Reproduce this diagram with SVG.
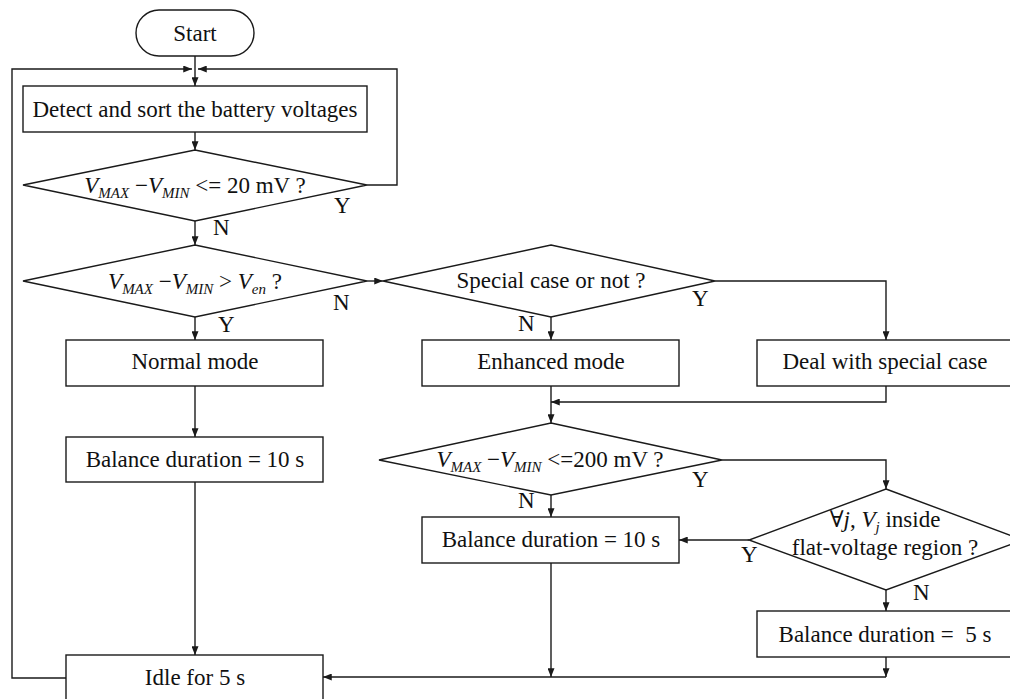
<svg xmlns="http://www.w3.org/2000/svg" width="1010" height="699" viewBox="0 0 1010 699" font-family="'Liberation Serif', 'DejaVu Serif', serif">
<defs>
<marker id="ah" viewBox="0 0 10 8" refX="10" refY="4" markerWidth="9" markerHeight="7" markerUnits="userSpaceOnUse" orient="auto">
<path d="M0,0 L10,4 L0,8 z" fill="#1a1a1a"/>
</marker>
</defs>
<style>
.shape{fill:#fff;stroke:#1a1a1a;stroke-width:1.4}
.t{font-family:'Liberation Serif','DejaVu Serif',serif;font-size:23px;fill:#111}
.c{text-anchor:middle}
.i{font-style:italic}
.s{font-size:15px;font-style:italic}
.ln{fill:none;stroke:#1a1a1a;stroke-width:1.4}
.ar{marker-end:url(#ah)}
</style>
<rect width="1010" height="699" fill="#fff"/>
<g id="connectors">
<path class="ln ar" d="M195,56 V86"/>
<path class="ln ar" d="M195,132 V150"/>
<path class="ln ar" d="M367,185 H397 V69 H198"/>
<path class="ln ar" d="M66,678 H12 V69 H192"/>
<path class="ln ar" d="M195,221 V245"/>
<path class="ln ar" d="M367,281 H383"/>
<path class="ln ar" d="M195,317 V340"/>
<path class="ln ar" d="M195,386 V437"/>
<path class="ln ar" d="M195,482 V655"/>
<path class="ln ar" d="M551,317 V340"/>
<path class="ln ar" d="M715,281 H886 V340"/>
<path class="ln ar" d="M886,386 V402 H551"/>
<path class="ln ar" d="M551,386 V423"/>
<path class="ln ar" d="M551,495 V517"/>
<path class="ln ar" d="M722,460 H886 V489"/>
<path class="ln ar" d="M749,540 H679"/>
<path class="ln ar" d="M886,590 V611"/>
<path class="ln ar" d="M551,563 V677"/>
<path class="ln ar" d="M886,657 V677"/>
<path class="ln ar" d="M886,677 H323"/>
</g>
<g id="start">
<rect class="shape" x="136" y="10" width="118" height="46" rx="23" ry="23"/>
<text class="t c" x="195" y="41">Start</text>
</g>
<g id="detect">
<rect class="shape" x="23" y="86" width="344" height="46"/>
<text class="t c" x="195" y="117">Detect and sort the battery voltages</text>
</g>
<g id="d1">
<polygon class="shape" points="195,150 367,185 195,221 23,185"/>
<text class="t c" x="195" y="193"><tspan class="i">V</tspan><tspan class="s" dy="5">MAX</tspan><tspan dy="-5"> −</tspan><tspan class="i">V</tspan><tspan class="s" dy="5">MIN</tspan><tspan dy="-5"> &lt;= 20 mV ?</tspan></text>
<text class="t" x="334" y="213">Y</text>
<text class="t" x="213" y="235">N</text>
</g>
<g id="d2">
<polygon class="shape" points="195,245 367,281 195,317 23,281"/>
<text class="t c" x="195" y="289"><tspan class="i">V</tspan><tspan class="s" dy="5">MAX</tspan><tspan dy="-5"> −</tspan><tspan class="i">V</tspan><tspan class="s" dy="5">MIN</tspan><tspan dy="-5"> &gt; </tspan><tspan class="i">V</tspan><tspan class="s" dy="5">en</tspan><tspan dy="-5"> ?</tspan></text>
<text class="t" x="333" y="310">N</text>
<text class="t" x="218" y="332">Y</text>
</g>
<g id="normal">
<rect class="shape" x="66" y="340" width="257" height="46"/>
<text class="t c" x="195" y="369">Normal mode</text>
</g>
<g id="balance1">
<rect class="shape" x="66" y="437" width="257" height="45"/>
<text class="t c" x="195" y="467">Balance duration = 10 s</text>
</g>
<g id="idle">
<rect class="shape" x="66" y="655" width="257" height="50"/>
<text class="t c" x="195" y="685">Idle for 5 s</text>
</g>
<g id="d3">
<polygon class="shape" points="551,245 715,281 551,317 383,281"/>
<text class="t c" x="551" y="288">Special case or not ?</text>
<text class="t" x="692" y="306">Y</text>
<text class="t" x="518" y="331">N</text>
</g>
<g id="enhanced">
<rect class="shape" x="422" y="340" width="257" height="46"/>
<text class="t c" x="551" y="369">Enhanced mode</text>
</g>
<g id="deal">
<rect class="shape" x="757" y="340" width="257" height="46"/>
<text class="t c" x="885" y="369">Deal with special case</text>
</g>
<g id="d4">
<polygon class="shape" points="551,423 722,460 551,495 379,460"/>
<text class="t c" x="550" y="467"><tspan class="i">V</tspan><tspan class="s" dy="5">MAX</tspan><tspan dy="-5"> −</tspan><tspan class="i">V</tspan><tspan class="s" dy="5">MIN</tspan><tspan dy="-5"> &lt;=200 mV ?</tspan></text>
<text class="t" x="692" y="487">Y</text>
<text class="t" x="518" y="508">N</text>
</g>
<g id="balance2">
<rect class="shape" x="422" y="517" width="257" height="46"/>
<text class="t c" x="551" y="547">Balance duration = 10 s</text>
</g>
<g id="d5">
<polygon class="shape" points="886,489 1023,540 886,590 749,540"/>
<text class="t c" x="885" y="527">∀<tspan class="i">j</tspan>, <tspan class="i">V</tspan><tspan class="s" dy="5">j</tspan><tspan dy="-5"> inside</tspan></text>
<text class="t c" x="885" y="555">flat-voltage region ?</text>
<text class="t" x="741" y="562">Y</text>
<text class="t" x="913" y="600">N</text>
</g>
<g id="balance5">
<rect class="shape" x="757" y="611" width="257" height="46"/>
<text class="t c" x="885" y="642" xml:space="preserve">Balance duration =  5 s</text>
</g>
</svg>
